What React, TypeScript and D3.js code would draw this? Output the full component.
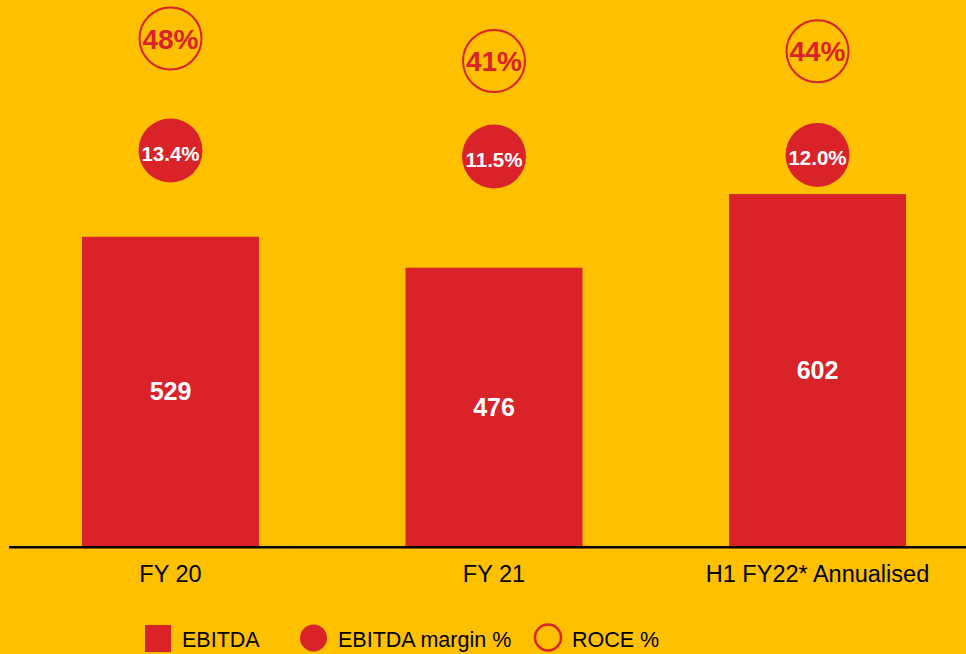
import React from "react";
import * as d3 from "d3";

const categories = ["FY 20", "FY 21", "H1 FY22* Annualised"];
const ebitda = [529, 476, 602];
const ebitdaMargin = [13.4, 11.5, 12.0];
const roce = [48, 41, 44];
const marginLabels = ["13.4%", "11.5%", "12.0%"];
const roceLabels = ["48%", "41%", "44%"];
const legendItems = ["EBITDA", "EBITDA margin %", "ROCE %"];

const W = 966;
const H = 654;
const BG = "#FFC000";
const RED = "#DA2229";
const FONT = "'Liberation Sans', Arial, sans-serif";

export default function App() {
  const x = d3
    .scaleBand<string>()
    .domain(categories)
    .range([8.75, 979.25])
    .paddingInner(0.453)
    .paddingOuter(0.2265);
  const baseY = 546;
  const y = d3.scaleLinear().domain([0, 934]).range([baseY, 0]);
  const yMargin = d3.scaleLinear().domain([11.5, 13.4]).range([156.5, 150.5]);
  const yRoce = d3.scaleLinear().domain([41, 48]).range([61, 38.5]);
  const r = 32;

  return (
    <div style={{ position: "absolute", left: 0, top: 0 }}>
      <svg width={W} height={H} style={{ display: "block" }} fontFamily={FONT}>
        <rect x={0} y={0} width={W} height={H} fill={BG} />
        {categories.map((c, i) => {
          const bx = x(c)!;
          const bw = x.bandwidth();
          const cx = bx + bw / 2;
          const top = y(ebitda[i]);
          return (
            <g key={c}>
              <rect x={bx} y={top} width={bw} height={baseY - top} fill={RED} />
              <text
                x={cx}
                y={(top + baseY) / 2 + 9}
                textAnchor="middle"
                fill="#fff"
                fontWeight="bold"
                fontSize={25}
              >
                {ebitda[i]}
              </text>
              <circle cx={cx} cy={yMargin(ebitdaMargin[i])} r={r} fill={RED} />
              <text
                x={cx}
                y={yMargin(ebitdaMargin[i]) + 10}
                textAnchor="middle"
                fill="#fff"
                fontWeight="bold"
                fontSize={20.5}
              >
                {marginLabels[i]}
              </text>
              <circle
                cx={cx}
                cy={yRoce(roce[i])}
                r={r - 1}
                fill="none"
                stroke={RED}
                strokeWidth={2}
              />
              <text
                x={cx}
                y={yRoce(roce[i]) + 10}
                textAnchor="middle"
                fill={RED}
                fontWeight="bold"
                fontSize={28}
              >
                {roceLabels[i]}
              </text>
              <text
                x={cx}
                y={582}
                textAnchor="middle"
                fill="#000"
                fontSize={23.5}
              >
                {c}
              </text>
            </g>
          );
        })}
        <line x1={9} x2={W} y1={baseY + 1.2} y2={baseY + 1.2} stroke="#000" strokeWidth={2.4} />
        <g fontSize={21.5} fill="#000">
          <rect x={145} y={625} width={26} height={27} fill={RED} />
          <text x={182} y={647}>{legendItems[0]}</text>
          <circle cx={313.5} cy={638} r={13.5} fill={RED} />
          <text x={338} y={647}>{legendItems[1]}</text>
          <circle cx={548} cy={637.5} r={13} fill="none" stroke={RED} strokeWidth={2.5} />
          <text x={572} y={647}>{legendItems[2]}</text>
        </g>
      </svg>
    </div>
  );
}
